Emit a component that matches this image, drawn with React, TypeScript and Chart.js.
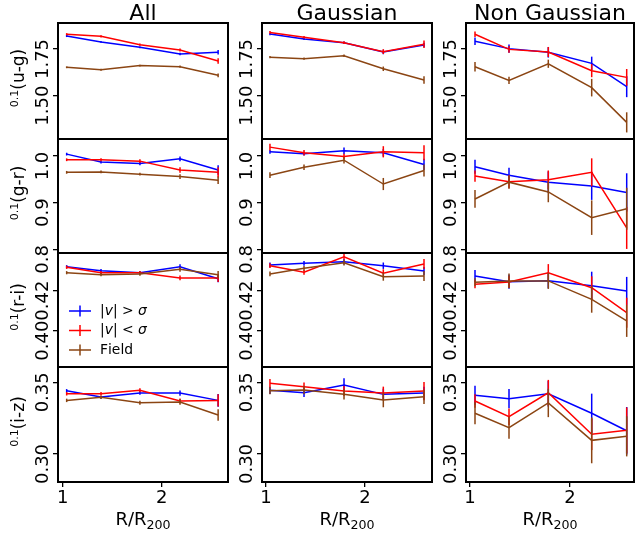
import React, { useEffect, useRef } from "react";
import { Chart, registerables } from "chart.js";

Chart.register(...registerables);

const FONT = "'DejaVu Sans', sans-serif";

// ---------- text ----------
const COLUMN_TITLES = ["All", "Gaussian", "Non Gaussian"];
const ROW_TITLES = ["(u-g)", "(g-r)", "(r-i)", "(i-z)"];
const ROW_SUPERSCRIPT = "0.1";
const X_LABEL_MAIN = "R/R";
const X_LABEL_SUB = "200";
const SERIES_NAMES = ["|v| > σ", "|v| < σ", "Field"];
const SERIES_COLORS = ["#0000ff", "#ff0000", "#8b4513"];

// ---------- ticks ----------
const X_TICKS = [1, 2];
const UG_TICKS = [1.5, 1.75];
const UG_TICK_LABELS = ["1.50", "1.75"];
const GR_TICKS = [0.8, 0.9, 1.0];
const GR_TICK_LABELS = ["0.8", "0.9", "1.0"];
const RI_TICKS = [0.4, 0.42];
const RI_TICK_LABELS = ["0.40", "0.42"];
const IZ_TICKS = [0.3, 0.35];
const IZ_TICK_LABELS = ["0.30", "0.35"];

// ---------- x positions (R/R200) ----------
const R_ALL = [1.04, 1.387, 1.78, 2.185, 2.57];
const R_GAUSS = [1.04, 1.384, 1.788, 2.185, 2.596];
const R_NONGAUSS = [1.05, 1.39, 1.783, 2.217, 2.567];

// ---------- u-g ----------
const UG_ALL_HI = [1.82, 1.788, 1.759, 1.723, 1.732];
const UG_ALL_HI_ERR = [0.006, 0.005, 0.005, 0.007, 0.012];
const UG_ALL_LO = [1.829, 1.818, 1.773, 1.745, 1.686];
const UG_ALL_LO_ERR = [0.006, 0.006, 0.006, 0.008, 0.015];
const UG_ALL_FD = [1.652, 1.639, 1.661, 1.655, 1.609];
const UG_ALL_FD_ERR = [0.005, 0.005, 0.005, 0.006, 0.01];

const UG_GAUSS_HI = [1.83, 1.804, 1.784, 1.734, 1.771];
const UG_GAUSS_HI_ERR = [0.006, 0.006, 0.006, 0.012, 0.012];
const UG_GAUSS_LO = [1.839, 1.813, 1.784, 1.736, 1.775];
const UG_GAUSS_LO_ERR = [0.007, 0.007, 0.007, 0.013, 0.02];
const UG_GAUSS_FD = [1.706, 1.698, 1.714, 1.644, 1.584];
const UG_GAUSS_FD_ERR = [0.006, 0.006, 0.007, 0.012, 0.02];

const UG_NG_HI = [1.791, 1.752, 1.732, 1.673, 1.548];
const UG_NG_HI_ERR = [0.02, 0.022, 0.028, 0.036, 0.056];
const UG_NG_LO = [1.829, 1.748, 1.734, 1.634, 1.598];
const UG_NG_LO_ERR = [0.015, 0.018, 0.027, 0.035, 0.045];
const UG_NG_FD = [1.655, 1.582, 1.671, 1.543, 1.357];
const UG_NG_FD_ERR = [0.025, 0.02, 0.022, 0.047, 0.054];

// ---------- g-r ----------
const GR_ALL_HI = [1.004, 0.987, 0.984, 0.994, 0.97];
const GR_ALL_HI_ERR = [0.003, 0.003, 0.004, 0.005, 0.01];
const GR_ALL_LO = [0.992, 0.992, 0.989, 0.97, 0.965];
const GR_ALL_LO_ERR = [0.003, 0.003, 0.004, 0.006, 0.011];
const GR_ALL_FD = [0.965, 0.966, 0.961, 0.956, 0.948];
const GR_ALL_FD_ERR = [0.003, 0.003, 0.003, 0.005, 0.008];

const GR_GAUSS_HI = [1.009, 1.005, 1.011, 1.007, 0.982];
const GR_GAUSS_HI_ERR = [0.004, 0.004, 0.007, 0.008, 0.012];
const GR_GAUSS_LO = [1.019, 1.007, 0.999, 1.009, 1.007];
const GR_GAUSS_LO_ERR = [0.007, 0.006, 0.006, 0.012, 0.016];
const GR_GAUSS_FD = [0.959, 0.976, 0.991, 0.94, 0.969];
const GR_GAUSS_FD_ERR = [0.006, 0.006, 0.007, 0.013, 0.013];

const GR_NG_HI = [0.977, 0.959, 0.944, 0.936, 0.922];
const GR_NG_HI_ERR = [0.015, 0.016, 0.023, 0.03, 0.041];
const GR_NG_LO = [0.957, 0.945, 0.949, 0.965, 0.846];
const GR_NG_LO_ERR = [0.012, 0.014, 0.02, 0.03, 0.045];
const GR_NG_FD = [0.908, 0.944, 0.923, 0.868, 0.887];
const GR_NG_FD_ERR = [0.019, 0.014, 0.022, 0.037, 0.045];

// ---------- r-i ----------
const RI_ALL_HI = [0.432, 0.43, 0.429, 0.432, 0.426];
const RI_ALL_HI_ERR = [0.0008, 0.0008, 0.0008, 0.0012, 0.0018];
const RI_ALL_LO = [0.4317, 0.429, 0.429, 0.4264, 0.4264];
const RI_ALL_LO_ERR = [0.0008, 0.0008, 0.0009, 0.0012, 0.002];
const RI_ALL_FD = [0.429, 0.428, 0.4284, 0.4307, 0.428];
const RI_ALL_FD_ERR = [0.0008, 0.0008, 0.0009, 0.0012, 0.0018];

const RI_GAUSS_HI = [0.4329, 0.4337, 0.4345, 0.4325, 0.4299];
const RI_GAUSS_HI_ERR = [0.0012, 0.0012, 0.0014, 0.0016, 0.002];
const RI_GAUSS_LO = [0.4325, 0.4292, 0.437, 0.4287, 0.4334];
const RI_GAUSS_LO_ERR = [0.0012, 0.0012, 0.0014, 0.002, 0.0025];
const RI_GAUSS_FD = [0.4284, 0.4312, 0.434, 0.427, 0.4274];
const RI_GAUSS_FD_ERR = [0.0012, 0.0012, 0.0014, 0.002, 0.0025];

const RI_NG_HI = [0.4274, 0.4245, 0.425, 0.4225, 0.4199];
const RI_NG_HI_ERR = [0.003, 0.0035, 0.0038, 0.007, 0.007];
const RI_NG_LO = [0.4232, 0.4244, 0.429, 0.4215, 0.409];
const RI_NG_LO_ERR = [0.002, 0.003, 0.0043, 0.0057, 0.0075];
const RI_NG_FD = [0.4242, 0.4249, 0.4249, 0.4157, 0.4049];
const RI_NG_FD_ERR = [0.002, 0.0037, 0.004, 0.0067, 0.008];

// ---------- i-z ----------
const IZ_ALL_HI = [0.3441, 0.3397, 0.3425, 0.3425, 0.3374];
const IZ_ALL_HI_ERR = [0.0012, 0.001, 0.0012, 0.0018, 0.0045];
const IZ_ALL_LO = [0.342, 0.342, 0.3444, 0.337, 0.3374];
const IZ_ALL_LO_ERR = [0.0012, 0.0012, 0.0014, 0.0018, 0.0042];
const IZ_ALL_FD = [0.3374, 0.3395, 0.3358, 0.3363, 0.3272];
const IZ_ALL_FD_ERR = [0.0012, 0.0012, 0.0014, 0.002, 0.004];

const IZ_GAUSS_HI = [0.3444, 0.3427, 0.3481, 0.3416, 0.3425];
const IZ_GAUSS_HI_ERR = [0.0025, 0.003, 0.0047, 0.004, 0.0045];
const IZ_GAUSS_LO = [0.3493, 0.3469, 0.3439, 0.3425, 0.3439];
const IZ_GAUSS_LO_ERR = [0.003, 0.003, 0.0035, 0.0045, 0.0064];
const IZ_GAUSS_FD = [0.3441, 0.3446, 0.3416, 0.3376, 0.3399];
const IZ_GAUSS_FD_ERR = [0.0025, 0.003, 0.0035, 0.005, 0.005];

const IZ_NG_HI = [0.3409, 0.3386, 0.342, 0.3284, 0.3162];
const IZ_NG_HI_ERR = [0.0067, 0.0067, 0.009, 0.0137, 0.0166];
const IZ_NG_LO = [0.337, 0.326, 0.3427, 0.3137, 0.3165];
const IZ_NG_LO_ERR = [0.0047, 0.0058, 0.009, 0.011, 0.016];
const IZ_NG_FD = [0.3284, 0.3183, 0.3356, 0.3095, 0.3123];
const IZ_NG_FD_ERR = [0.0077, 0.0076, 0.0099, 0.016, 0.014];

// ---------- layout (page pixels) ----------
const W = 635;
const H = 536;
const COL_L = [58, 262, 466];
const COL_R = [228, 432, 634];
const ROW_T = [23, 139, 253, 367];
const ROW_B = [139, 253, 367, 482];
const X_RANGE = [
  [0.9525, 2.6697],
  [0.9596, 2.6768],
  [0.96, 2.64],
];
const Y_RANGE = [
  [1.2679, 1.8893],
  [0.7923, 1.0364],
  [0.38185, 0.43885],
  [0.28043, 0.3607],
];
const Y_TICKS = [UG_TICKS, GR_TICKS, RI_TICKS, IZ_TICKS];
const Y_TICK_LABELS = [UG_TICK_LABELS, GR_TICK_LABELS, RI_TICK_LABELS, IZ_TICK_LABELS];
const R_COLS = [R_ALL, R_GAUSS, R_NONGAUSS];

const VALUES = [
  [
    [UG_ALL_HI, UG_ALL_LO, UG_ALL_FD],
    [UG_GAUSS_HI, UG_GAUSS_LO, UG_GAUSS_FD],
    [UG_NG_HI, UG_NG_LO, UG_NG_FD],
  ],
  [
    [GR_ALL_HI, GR_ALL_LO, GR_ALL_FD],
    [GR_GAUSS_HI, GR_GAUSS_LO, GR_GAUSS_FD],
    [GR_NG_HI, GR_NG_LO, GR_NG_FD],
  ],
  [
    [RI_ALL_HI, RI_ALL_LO, RI_ALL_FD],
    [RI_GAUSS_HI, RI_GAUSS_LO, RI_GAUSS_FD],
    [RI_NG_HI, RI_NG_LO, RI_NG_FD],
  ],
  [
    [IZ_ALL_HI, IZ_ALL_LO, IZ_ALL_FD],
    [IZ_GAUSS_HI, IZ_GAUSS_LO, IZ_GAUSS_FD],
    [IZ_NG_HI, IZ_NG_LO, IZ_NG_FD],
  ],
];
const ERRORS = [
  [
    [UG_ALL_HI_ERR, UG_ALL_LO_ERR, UG_ALL_FD_ERR],
    [UG_GAUSS_HI_ERR, UG_GAUSS_LO_ERR, UG_GAUSS_FD_ERR],
    [UG_NG_HI_ERR, UG_NG_LO_ERR, UG_NG_FD_ERR],
  ],
  [
    [GR_ALL_HI_ERR, GR_ALL_LO_ERR, GR_ALL_FD_ERR],
    [GR_GAUSS_HI_ERR, GR_GAUSS_LO_ERR, GR_GAUSS_FD_ERR],
    [GR_NG_HI_ERR, GR_NG_LO_ERR, GR_NG_FD_ERR],
  ],
  [
    [RI_ALL_HI_ERR, RI_ALL_LO_ERR, RI_ALL_FD_ERR],
    [RI_GAUSS_HI_ERR, RI_GAUSS_LO_ERR, RI_GAUSS_FD_ERR],
    [RI_NG_HI_ERR, RI_NG_LO_ERR, RI_NG_FD_ERR],
  ],
  [
    [IZ_ALL_HI_ERR, IZ_ALL_LO_ERR, IZ_ALL_FD_ERR],
    [IZ_GAUSS_HI_ERR, IZ_GAUSS_LO_ERR, IZ_GAUSS_FD_ERR],
    [IZ_NG_HI_ERR, IZ_NG_LO_ERR, IZ_NG_FD_ERR],
  ],
];

const Y_AXIS_W = 30;
const X_AXIS_H = 40;
const TICK_FONT = 18;
const TITLE_FONT = 22;
const LEGEND_FONT = 13.9;
const Y_LABEL_OFFSET = 10; // label centre below tick

function drawRich(ctx: CanvasRenderingContext2D, text: string, x: number, y: number, size: number) {
  // italic for v and σ (math style)
  let cx = x;
  for (const ch of text) {
    const it = ch === "v" || ch === "σ";
    ctx.font = `${it ? "italic " : ""}${size}px ${FONT}`;
    ctx.fillText(ch, cx, y);
    cx += ctx.measureText(ch).width;
  }
}

function Panel({ row, col }: { row: number; col: number }) {
  const ref = useRef<HTMLCanvasElement | null>(null);

  useEffect(() => {
    const canvas = ref.current;
    if (!canvas) return;
    const isBottom = row === 3;
    const xs = R_COLS[col];
    const vals = VALUES[row][col];
    const errs = ERRORS[row][col];

    const datasets: any[] = vals.map((v, k) => ({
      label: SERIES_NAMES[k],
      data: xs.map((x, i) => ({ x, y: v[i] })),
      errors: errs[k],
      borderColor: SERIES_COLORS[k],
      backgroundColor: SERIES_COLORS[k],
      borderWidth: 1.5,
      pointRadius: 0,
      pointHoverRadius: 0,
      tension: 0,
      fill: false,
      order: 3 - k,
    }));

    const deco = {
      id: "panelDeco",
      afterDatasetDraw(chart: any, args: any) {
        const ds = chart.data.datasets[args.index];
        const sx = chart.scales.x;
        const sy = chart.scales.y;
        const a = chart.chartArea;
        const ctx: CanvasRenderingContext2D = chart.ctx;
        ctx.save();
        ctx.beginPath();
        ctx.rect(a.left, a.top, a.right - a.left, a.bottom - a.top);
        ctx.clip();
        ctx.strokeStyle = ds.borderColor;
        ctx.lineWidth = 1.5;
        ds.data.forEach((pt: any, i: number) => {
          const e = ds.errors[i];
          const px = sx.getPixelForValue(pt.x);
          ctx.beginPath();
          ctx.moveTo(px, sy.getPixelForValue(pt.y - e));
          ctx.lineTo(px, sy.getPixelForValue(pt.y + e));
          ctx.stroke();
        });
        ctx.restore();
      },
      afterDatasetsDraw(chart: any) {
        const a = chart.chartArea;
        const ctx: CanvasRenderingContext2D = chart.ctx;
        const sy = chart.scales.y;
        ctx.save();
        // frame
        ctx.strokeStyle = "#000";
        ctx.lineWidth = 2;
        ctx.strokeRect(a.left, a.top, a.right - a.left, a.bottom - a.top);

        ctx.fillStyle = "#000";
        // y tick labels (rotated)
        ctx.font = `${TICK_FONT}px ${FONT}`;
        sy.ticks.forEach((t: any, i: number) => {
          const py = sy.getPixelForValue(t.value);
          ctx.save();
          ctx.translate(a.left - 10, py + Y_LABEL_OFFSET);
          ctx.rotate(-Math.PI / 2);
          ctx.textAlign = "center";
          ctx.textBaseline = "alphabetic";
          ctx.fillText(Y_TICK_LABELS[row][i], 0, 0);
          ctx.restore();
        });

        // column title
        if (row === 0) {
          ctx.font = `${TITLE_FONT}px ${FONT}`;
          ctx.textAlign = "center";
          ctx.textBaseline = "alphabetic";
          ctx.fillText(COLUMN_TITLES[col], (a.left + a.right) / 2, 19.5);
        }

        // row label
        if (col === 0) {
          ctx.save();
          ctx.translate(24, (a.top + a.bottom) / 2 - 3);
          ctx.rotate(-Math.PI / 2);
          ctx.textAlign = "left";
          ctx.textBaseline = "alphabetic";
          ctx.font = `11px ${FONT}`;
          const wSup = ctx.measureText(ROW_SUPERSCRIPT).width;
          ctx.font = `17px ${FONT}`;
          const wMain = ctx.measureText(ROW_TITLES[row]).width;
          const start = -(wSup + wMain) / 2;
          ctx.font = `11px ${FONT}`;
          ctx.fillText(ROW_SUPERSCRIPT, start, -6);
          ctx.font = `17px ${FONT}`;
          ctx.fillText(ROW_TITLES[row], start + wSup, 0);
          ctx.restore();
        }

        // x label
        if (isBottom) {
          ctx.textAlign = "left";
          ctx.textBaseline = "alphabetic";
          ctx.font = `18px ${FONT}`;
          const wm = ctx.measureText(X_LABEL_MAIN).width;
          ctx.font = `12.6px ${FONT}`;
          const ws = ctx.measureText(X_LABEL_SUB).width;
          const sx0 = (a.left + a.right) / 2 - (wm + ws) / 2;
          ctx.font = `18px ${FONT}`;
          ctx.fillText(X_LABEL_MAIN, sx0, 525);
          ctx.font = `12.6px ${FONT}`;
          ctx.fillText(X_LABEL_SUB, sx0 + wm, 529);
        }

        // legend
        if (row === 2 && col === 0) {
          const rowsY = [a.top + 58, a.top + 77.5, a.top + 97];
          SERIES_NAMES.forEach((name, k) => {
            const y = rowsY[k];
            ctx.strokeStyle = SERIES_COLORS[k];
            ctx.lineWidth = 1.5;
            ctx.beginPath();
            ctx.moveTo(a.left + 11, y);
            ctx.lineTo(a.left + 33, y);
            ctx.moveTo(a.left + 22, y - 5.5);
            ctx.lineTo(a.left + 22, y + 5.5);
            ctx.stroke();
            ctx.fillStyle = "#000";
            ctx.textAlign = "left";
            ctx.textBaseline = "middle";
            drawRich(ctx, name, a.left + 42, y, LEGEND_FONT);
          });
        }
        ctx.restore();
      },
    };

    const gridOpts = {
      display: true,
      drawOnChartArea: false,
      drawTicks: true,
      tickLength: 5,
      color: "#000",
      lineWidth: 1.3,
    };

    const chart = new Chart(canvas, {
      type: "line",
      data: { datasets },
      options: {
        responsive: false,
        animation: false,
        devicePixelRatio: 1,
        events: [],
        layout: {
          padding: {
            left: COL_L[col] - Y_AXIS_W,
            top: ROW_T[row],
            right: W - COL_R[col],
            bottom: isBottom ? H - ROW_B[row] - X_AXIS_H : H - ROW_B[row],
          },
        },
        plugins: {
          legend: { display: false },
          tooltip: { enabled: false },
        },
        scales: {
          x: {
            type: "linear",
            display: isBottom,
            min: X_RANGE[col][0],
            max: X_RANGE[col][1],
            afterBuildTicks: (s: any) => {
              s.ticks = X_TICKS.map((v) => ({ value: v }));
            },
            afterFit: (s: any) => {
              if (isBottom) s.height = X_AXIS_H;
            },
            grid: gridOpts,
            border: { display: false },
            ticks: {
              color: "#000",
              font: { family: FONT, size: TICK_FONT },
              padding: 1,
              maxRotation: 0,
              autoSkip: false,
              callback: (v: any) => String(v),
            },
          },
          y: {
            type: "linear",
            min: Y_RANGE[row][0],
            max: Y_RANGE[row][1],
            afterBuildTicks: (s: any) => {
              s.ticks = Y_TICKS[row].map((v) => ({ value: v }));
            },
            afterFit: (s: any) => {
              s.width = Y_AXIS_W;
            },
            grid: gridOpts,
            border: { display: false },
            ticks: { display: false },
          },
        },
      } as any,
      plugins: [deco],
    });
    return () => chart.destroy();
  }, [row, col]);

  return (
    <canvas
      ref={ref}
      width={W}
      height={H}
      style={{ position: "absolute", left: 0, top: 0, width: W, height: H }}
    />
  );
}

export default function App() {
  const cells: { row: number; col: number }[] = [];
  for (let r = 0; r < 4; r++) for (let c = 0; c < 3; c++) cells.push({ row: r, col: c });
  return (
    <div
      style={{
        position: "absolute",
        left: 0,
        top: 0,
        width: W,
        height: H,
        background: "#fff",
        overflow: "hidden",
      }}
    >
      {cells.map((c) => (
        <Panel key={`${c.row}-${c.col}`} row={c.row} col={c.col} />
      ))}
    </div>
  );
}
